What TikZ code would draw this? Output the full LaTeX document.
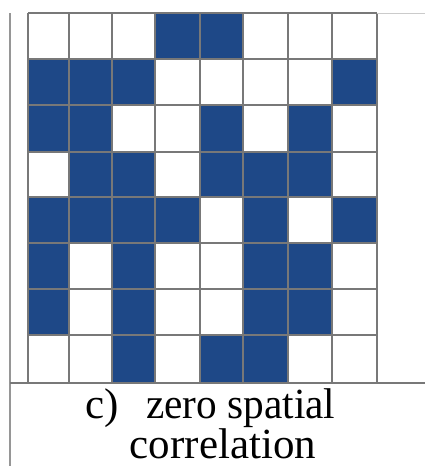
\documentclass[tikz,border=0pt]{standalone}
\usepackage{fontspec}
\setmainfont{Liberation Serif}
\definecolor{cellblue}{RGB}{30,72,135}
\definecolor{gridgray}{RGB}{120,120,120}
\definecolor{framegray}{RGB}{150,150,150}
\begin{document}
\begin{tikzpicture}[x=1pt,y=-1pt,
  gridline/.style={draw=gridgray,line width=1.6pt},
  frameline/.style={draw=framegray,line width=1.8pt},
  caption/.style={font=\fontsize{43}{43}\selectfont,inner sep=0pt,anchor=base}]
\useasboundingbox (0,0) rectangle (425,466);
\fill[white] (0,0) rectangle (425,466);
\def\xs{{28,69,112,155,200,243,288,332,377}}
\def\ys{{13,59,105,152,197,243,289,335,383}}
% pattern rows top to bottom
\def\pat{{{0,0,0,1,1,0,0,0},{1,1,1,0,0,0,0,1},{1,1,0,0,1,0,1,0},{0,1,1,0,1,1,1,0},{1,1,1,1,0,1,0,1},{1,0,1,0,0,1,1,0},{1,0,1,0,0,1,1,0},{0,0,1,0,1,1,0,0}}}
\foreach \r in {0,...,7}{
  \foreach \c in {0,...,7}{
    \pgfmathtruncatemacro{\v}{\pat[\r][\c]}
    \ifnum\v=1
      \pgfmathsetmacro{\xa}{\xs[\c]}
      \pgfmathsetmacro{\xb}{\xs[\c+1]}
      \pgfmathsetmacro{\ya}{\ys[\r]}
      \pgfmathsetmacro{\yb}{\ys[\r+1]}
      \fill[cellblue] (\xa,\ya) rectangle (\xb,\yb);
    \fi
  }
}
\foreach \i in {0,...,8}{
  \pgfmathsetmacro{\xx}{\xs[\i]}
  \draw[gridline] (\xx,13) -- (\xx,383);
  \pgfmathsetmacro{\yy}{\ys[\i]}
  \draw[gridline] (28,\yy) -- (377,\yy);
}
\draw[frameline] (10,13) -- (10,466);
\draw[gridline] (10,383) -- (425,383);
\draw[draw=framegray!50,line width=1pt] (377,13) -- (425,13);
\node[caption] (lab) at (102,418) {c)};
\node[caption,anchor=base west] (cap1) at (146,418) {\scalebox{0.96}[1]{zero spatial}};
\node[caption] (cap2) at (223,458) {correlation};
\end{tikzpicture}
\end{document}
